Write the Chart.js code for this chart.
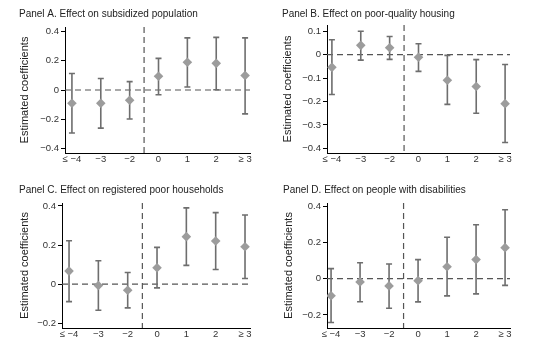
<!DOCTYPE html>
<html>
<head>
<meta charset="utf-8">
<script src="https://cdn.jsdelivr.net/npm/chart.js@4"></script>
<style>
body { margin:0; background:#fff; width:538px; height:350px; position:relative; overflow:hidden; }
.panel { position:absolute; width:269px; height:175px; }
</style>
</head>
<body>
<div class="panel" style="left:0;top:0"><canvas id="pA" width="269" height="175"></canvas></div>
<div class="panel" style="left:268px;top:0"><canvas id="pB" width="269" height="175"></canvas></div>
<div class="panel" style="left:0;top:175px"><canvas id="pC" width="269" height="175"></canvas></div>
<div class="panel" style="left:268px;top:175px"><canvas id="pD" width="269" height="175"></canvas></div>
<script>
// event-time categories
const xLabels = ['≤ −4', '−3', '−2', '0', '1', '2', '≥ 3'];
const xPos = [0, 1, 2, 3, 4, 5, 6];
const eventLine = 2.5; // treatment starts between -2 and 0

// Panel A: subsidized population
const coefA = [-0.090, -0.090, -0.070, 0.094, 0.189, 0.182, 0.099];
const loA   = [-0.294, -0.260, -0.198, -0.032, 0.020, 0.002, -0.163];
const hiA   = [0.113, 0.078, 0.057, 0.216, 0.356, 0.359, 0.356];
const yTicksA = [-0.4, -0.2, 0, 0.2, 0.4];

// Panel B: poor-quality housing
const coefB = [-0.054, 0.040, 0.030, -0.011, -0.109, -0.136, -0.209];
const loB   = [-0.170, -0.023, -0.020, -0.071, -0.212, -0.250, -0.375];
const hiB   = [0.064, 0.100, 0.078, 0.047, -0.003, -0.021, -0.042];
const yTicksB = [-0.4, -0.3, -0.2, -0.1, 0, 0.1];

// Panel C: registered poor households
const coefC = [0.067, -0.007, -0.031, 0.084, 0.243, 0.221, 0.191];
const loC   = [-0.089, -0.133, -0.121, -0.019, 0.096, 0.075, 0.029];
const hiC   = [0.222, 0.120, 0.060, 0.188, 0.390, 0.366, 0.354];
const yTicksC = [-0.2, 0, 0.2, 0.4];

// Panel D: people with disabilities
const coefD = [-0.094, -0.018, -0.040, -0.011, 0.066, 0.105, 0.171];
const loD   = [-0.242, -0.127, -0.163, -0.128, -0.095, -0.084, -0.037];
const hiD   = [0.055, 0.088, 0.081, 0.105, 0.228, 0.297, 0.380];
const yTicksD = [-0.2, 0, 0.2, 0.4];

const FONT = 'Arial, "Liberation Sans", Helvetica, sans-serif';

function fmtTick(v) {
    if (Math.abs(v) < 1e-9) return '0';
    return v.toFixed(1).replace('-', '−');
}

// dashed reference lines + error bars, drawn below the diamonds
const ciPlugin = {
    id: 'ciBars',
    beforeDatasetsDraw(chart) {
        const { ctx, chartArea: a, scales: { x, y } } = chart;
        ctx.save();
        ctx.strokeStyle = '#555';
        ctx.lineWidth = 1.2;
        ctx.setLineDash([6, 4]);
        const y0 = y.getPixelForValue(0);
        ctx.beginPath(); ctx.moveTo(a.left, y0); ctx.lineTo(a.right, y0); ctx.stroke();
        const xe = x.getPixelForValue(eventLine);
        ctx.beginPath(); ctx.moveTo(xe, a.top); ctx.lineTo(xe, a.bottom); ctx.stroke();
        ctx.setLineDash([]);

        const ds = chart.data.datasets[0];
        ctx.strokeStyle = '#6e6e6e';
        ctx.lineWidth = 1.6;
        ds.lo.forEach((lo, i) => {
            const px = x.getPixelForValue(xPos[i]);
            const yl = y.getPixelForValue(lo), yh = y.getPixelForValue(ds.hi[i]);
            ctx.beginPath();
            ctx.moveTo(px, yl); ctx.lineTo(px, yh);
            ctx.moveTo(px - 3, yl); ctx.lineTo(px + 3, yl);
            ctx.moveTo(px - 3, yh); ctx.lineTo(px + 3, yh);
            ctx.stroke();
        });
        ctx.restore();
    }
};

function makePanel(id, title, coef, lo, hi, yTicks, yMin, yMax, xMin, lay) {
    new Chart(document.getElementById(id), {
        type: 'scatter',
        data: {
            datasets: [{
                data: xPos.map((x, i) => ({ x: x, y: coef[i] })),
                lo: lo, hi: hi,
                pointStyle: 'rectRot',
                pointRadius: 4.8,
                backgroundColor: '#9c9c9c',
                borderColor: '#9c9c9c',
                borderWidth: 0
            }]
        },
        options: {
            responsive: false,
            animation: false,
            devicePixelRatio: 1,
            layout: { padding: { left: lay.left, right: lay.right, top: 0, bottom: 2 } },
            plugins: {
                legend: { display: false },
                tooltip: { enabled: false },
                title: {
                    display: true, text: title, align: 'start', color: '#222',
                    font: { family: FONT, size: 10, weight: 'normal', lineHeight: 1.2 },
                    padding: { top: lay.titleTop, bottom: lay.titleBottom }
                }
            },
            scales: {
                x: {
                    type: 'linear', min: xMin, max: 6.17,
                    afterBuildTicks: s => { s.ticks = xPos.map(v => ({ value: v })); },
                    afterFit: s => { s.height = 20; },
                    grid: { display: false, drawTicks: false, tickLength: 0 },
                    border: { display: true, color: '#000', width: 1 },
                    ticks: {
                        callback: (v, i) => xLabels[i],
                        color: '#333', padding: 1, maxRotation: 0, autoSkip: false,
                        font: { family: FONT, size: 9.5 }
                    }
                },
                y: {
                    min: yMin, max: yMax,
                    afterBuildTicks: s => { s.ticks = yTicks.map(v => ({ value: v })); },
                    afterFit: s => { s.width = lay.yWidth; },
                    grid: { drawOnChartArea: false, drawTicks: true, tickLength: 4, color: '#000', lineWidth: 1 },
                    border: { display: true, color: '#000', width: 1 },
                    ticks: {
                        callback: v => fmtTick(v),
                        color: '#333', padding: 2,
                        font: { family: FONT, size: 9.5 }
                    },
                    title: {
                        display: true, text: 'Estimated coefficients', color: '#222',
                        font: { family: FONT, size: 11, lineHeight: 1 },
                        padding: 0
                    }
                }
            }
        },
        plugins: [ciPlugin]
    });
}

makePanel('pA', 'Panel A. Effect on subsidized population', coefA, loA, hiA, yTicksA, -0.43, 0.43, -0.24,
    { left: 19, right: 19, titleTop: 8, titleBottom: 7, yWidth: 46 });
makePanel('pB', 'Panel B. Effect on poor-quality housing', coefB, loB, hiB, yTicksB, -0.42, 0.127, -0.17,
    { left: 14, right: 27, titleTop: 8, titleBottom: 5, yWidth: 45 });
makePanel('pC', 'Panel C. Effect on registered poor households', coefC, loC, hiC, yTicksC, -0.224, 0.415, -0.24,
    { left: 19, right: 19, titleTop: 9, titleBottom: 7, yWidth: 43 });
makePanel('pD', 'Panel D. Effect on people with disabilities', coefD, loD, hiD, yTicksD, -0.272, 0.417, -0.14,
    { left: 15, right: 27, titleTop: 9, titleBottom: 7, yWidth: 44 });
</script>
</body>
</html>
